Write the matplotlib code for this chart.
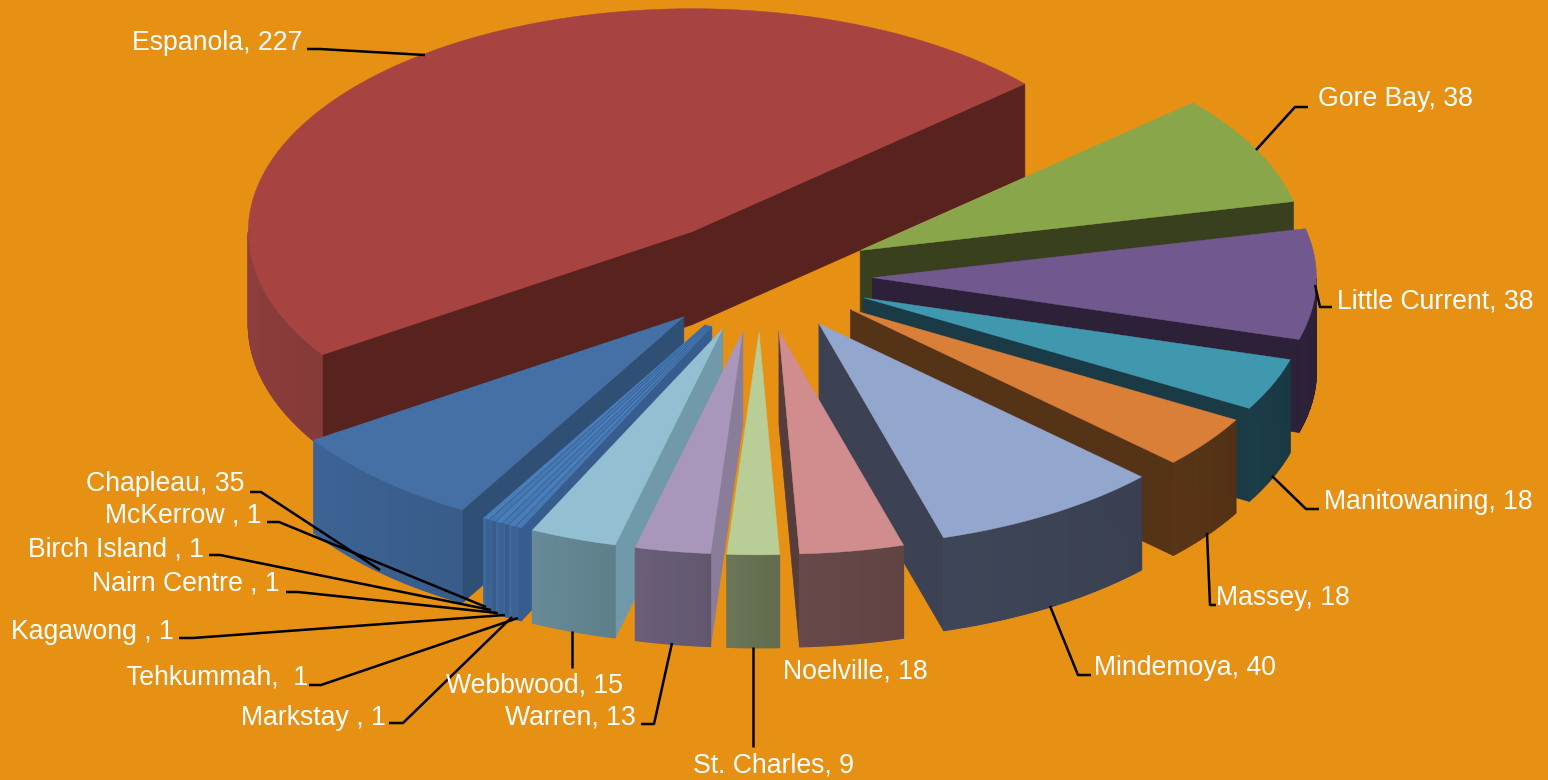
import numpy as np
import matplotlib
matplotlib.use('Agg')
import matplotlib.pyplot as plt

# values, counter clockwise starting with the big slice
names = ['Espanola', 'Chapleau', 'McKerrow ', 'Birch Island ', 'Nairn Centre ', 'Kagawong ',
         'Tehkummah, ', 'Markstay ', 'Webbwood', 'Warren', 'St. Charles', 'Noelville',
         'Mindemoya', 'Massey', 'Manitowaning', 'Little Current', 'Gore Bay']
values = [227, 35, 1, 1, 1, 1, 1, 1, 15, 13, 9, 18, 40, 18, 18, 38, 38]

top_colors = ['#A74341', '#4470A6', '#4A7EBB', '#4679B3', '#4A7EBB', '#4679B3', '#4A7EBB', '#4679B3',
              '#92C0D2', '#A897BA', '#B9CD96', '#D18D8D', '#93A7CE', '#DA7F38', '#4098AF',
              '#71588F', '#8AA64B']
wall_colors = ['#8A3D3B', '#3A6090', '#3D6698', '#3A6192', '#3D6698', '#3A6192', '#3D6698', '#3A6192',
               '#628591', '#665B74', '#667153', '#644646', '#3C4355', '#553316', '#1A3B46',
               '#2C2138', '#38401D']
face_colors = ['#58221F', '#2F4F75', '#365D8E', '#365D8E', '#365D8E', '#365D8E', '#365D8E', '#365D8E',
               '#7099A9', '#8A7D99', '#667153', '#573C3C', '#3C4253', '#553316', '#1A3B46',
               '#2C2138', '#38401D']

# label text, text x, text y, leader line
labels = [
    ('Espanola, 227', 132, 43, [(307, 49), (320, 49), (425, 55)]),
    ('Gore Bay, 38', 1318, 99, [(1308, 107), (1295, 107), (1256, 150)]),
    ('Little Current, 38', 1337, 301, [(1332, 307), (1320, 307), (1315, 285)]),
    ('Manitowaning, 18', 1324, 502, [(1319, 509), (1306, 509), (1272, 476)]),
    ('Massey, 18', 1216, 598, [(1216, 605), (1210, 605), (1207, 533)]),
    ('Mindemoya, 40', 1094, 668, [(1091, 675), (1078, 675), (1050, 606)]),
    ('Noelville, 18', 783, 671, None),
    ('St. Charles, 9', 693, 765, [(753, 747), (753, 647)]),
    ('Warren, 13', 505, 718, [(641, 724), (654, 724), (672, 643)]),
    ('Webbwood, 15', 446, 685, [(572, 668), (572, 631)]),
    ('Markstay , 1', 241, 718, [(389, 723), (403, 723), (512, 617)]),
    ('Tehkummah,  1', 126, 678, [(309, 685), (321, 685), (518, 618)]),
    ('Kagawong , 1', 11, 632, [(179, 638), (193, 638), (505, 615)]),
    ('Nairn Centre , 1', 92, 584, [(286, 592), (298, 592), (498, 613)]),
    ('Birch Island , 1', 28, 550, [(209, 555), (220, 555), (491, 610)]),
    ('McKerrow , 1', 105, 515, [(267, 522), (279, 522), (486, 607)]),
    ('Chapleau, 35', 86, 484, [(250, 492), (261, 492), (380, 570)]),
]

bg = '#E69014'
start_angle = 41.5
cx, cy = 760.5, 276     # pie centre on screen
radius = 444
squash = 0.502          # tilt of the pie
depth = 93
explode_x, explode_y = 112, 56


def project(r, ang, off, z=0):
    # off is the exploded apex, r and ang are measured from it
    a = np.radians(ang)
    return off[0] + r * np.cos(a), off[1] - squash * r * np.sin(a) + z


def shade(color, f):
    rgb = np.array(matplotlib.colors.to_rgb(color))
    return tuple(np.clip(rgb * f, 0, 1))


fig = plt.figure(figsize=(15.48, 7.8), dpi=100, facecolor=bg)
ax = fig.add_axes([0, 0, 1, 1])
ax.set_xlim(0, 1548)
ax.set_ylim(780, 0)
ax.axis('off')

sweeps = np.array(values) / sum(values) * 360
starts = start_angle + np.concatenate([[0], np.cumsum(sweeps)[:-1]])
mids = starts + sweeps / 2

# back slices first
order = np.argsort(-np.sin(np.radians(mids)))

for i in order:
    a0, a1 = starts[i], starts[i] + sweeps[i]
    m = np.radians(mids[i])
    apex = (cx + explode_x * np.cos(m), cy - explode_y * np.sin(m))

    # radial faces
    for ang, visible in ((a0, np.cos(np.radians(a0)) > 0), (a1, np.cos(np.radians(a1)) < 0)):
        if visible:
            x, y = project(radius, ang, apex)
            pts = [apex, (x, y), (x, y + depth), (apex[0], apex[1] + depth)]
            ax.fill(*zip(*pts), color=face_colors[i], lw=0.5, zorder=1)

    # outer wall in short pieces so it can shade left to right
    t = np.linspace(a0, a1, max(int(sweeps[i]) * 2, 2) + 1)
    pieces = [(u, v) for u, v in zip(t[:-1], t[1:]) if np.sin(np.radians((u + v) / 2)) < 0]
    for n, (u, v) in enumerate(pieces):
        f = 1.04 - 0.08 * n / max(len(pieces) - 1, 1)
        xa, ya = project(radius, u, apex)
        xb, yb = project(radius, v, apex)
        ax.fill([xa, xb, xb, xa], [ya, yb, yb + depth, ya + depth],
                color=shade(wall_colors[i], f), lw=0.8, zorder=1)

    # top
    xs, ys = project(radius, t, apex)
    ax.fill(np.r_[apex[0], xs], np.r_[apex[1], ys], color=top_colors[i], lw=0.3, zorder=1)

for text, x, y, leader in labels:
    if leader:
        ax.plot(*zip(*leader), color='black', lw=1.8, zorder=2, solid_capstyle='butt')
    ax.text(x, y, text, color='white', fontsize=19.2, family='Liberation Sans',
            ha='left', va='center', zorder=3)

fig.savefig('out.png', dpi=100, facecolor=bg)
